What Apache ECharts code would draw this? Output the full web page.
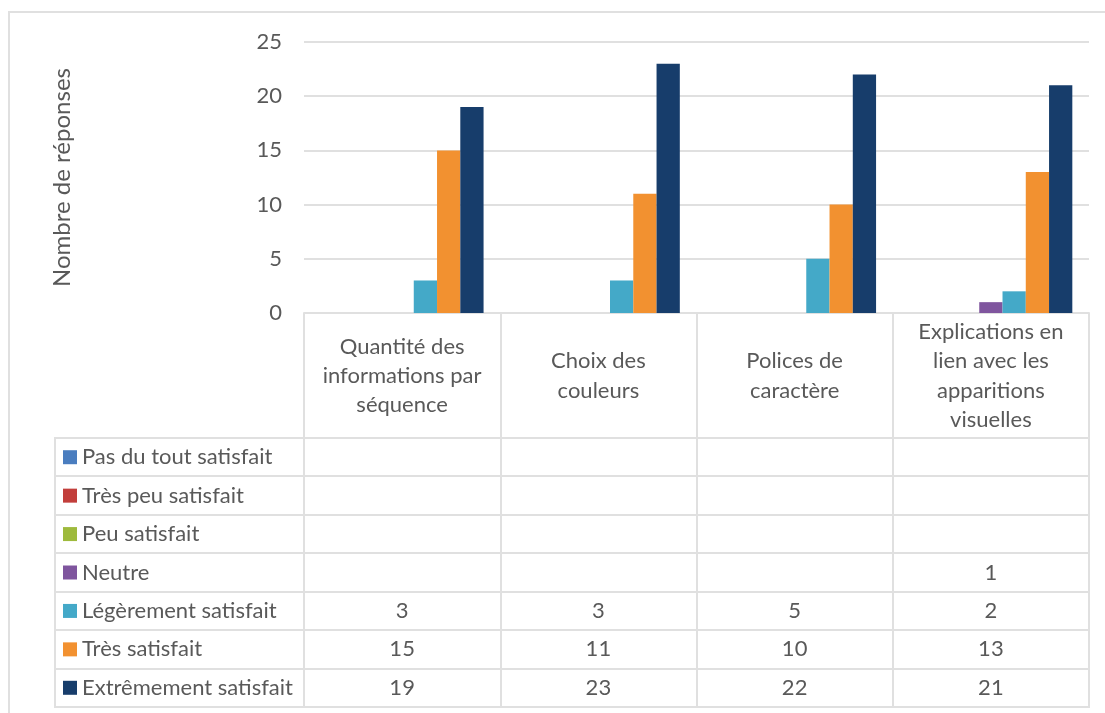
<!DOCTYPE html>
<html>
<head>
<meta charset="utf-8">
<script src="https://cdn.jsdelivr.net/npm/echarts@6/dist/echarts.min.js"></script>
<style>
  html, body { margin: 0; padding: 0; background: #ffffff; }
  #chart { width: 1105px; height: 713px; }
</style>
</head>
<body>
<div id="chart"></div>
<script>
// ---- data ----
const categories = [
  'Quantité des\ninformations par\nséquence',
  'Choix des\ncouleurs',
  'Polices de\ncaractère',
  'Explications en\nlien avec les\napparitions\nvisuelles'
];
const seriesNames = [
  'Pas du tout satisfait',
  'Très peu satisfait',
  'Peu satisfait',
  'Neutre',
  'Légèrement satisfait',
  'Très satisfait',
  'Extrêmement satisfait'
];
const pasDuTout = [null, null, null, null];
const tresPeu = [null, null, null, null];
const peu = [null, null, null, null];
const neutre = [null, null, null, 1];
const legerement = [3, 3, 5, 2];
const tresSatisfait = [15, 11, 10, 13];
const extremement = [19, 23, 22, 21];
const yTicks = [0, 5, 10, 15, 20, 25];
const yTitle = 'Nombre de réponses';

const seriesValues = [pasDuTout, tresPeu, peu, neutre, legerement, tresSatisfait, extremement];
const colors = ['#4A7DBF', '#C23E3B', '#9EBA3C', '#7F559E', '#44A9C8', '#F29130', '#173D6B'];

// ---- layout / style ----
const FONT = 'Lato';
const TXT = '#595959';
const LINE = '#E0E0E0';
const LW = 2;
const FS = 22;
const GRID = { left: 304, top: 42, width: 785, height: 271 };
const TABLE_LEFT = 55;
const HEADER_BOTTOM = 438;
const ROW_H = 38.43;

const chart = echarts.init(document.getElementById('chart'), null, { renderer: 'canvas' });

const option = {
  animation: false,
  backgroundColor: '#ffffff',
  color: colors,
  textStyle: { fontFamily: FONT },
  grid: { left: GRID.left, top: GRID.top, width: GRID.width, height: GRID.height, containLabel: false },
  legend: {
    orient: 'vertical',
    left: 63,
    top: HEADER_BOTTOM,
    padding: 0,
    itemGap: 0,
    itemWidth: 14,
    itemHeight: 14,
    icon: 'rect',
    selectedMode: false,
    data: seriesNames,
    textStyle: { fontFamily: FONT, fontSize: FS, color: TXT, lineHeight: ROW_H }
  },
  xAxis: {
    type: 'category',
    data: categories,
    boundaryGap: true,
    axisLine: { show: true, lineStyle: { color: LINE, width: LW } },
    axisTick: { show: true, interval: 0, alignWithLabel: false, length: 394, lineStyle: { color: LINE, width: LW } },
    axisLabel: {
      interval: 0,
      margin: 63,
      verticalAlign: 'middle',
      align: 'center',
      fontFamily: FONT,
      fontSize: FS,
      lineHeight: 29.3,
      color: TXT
    },
    splitLine: { show: false }
  },
  yAxis: {
    type: 'value',
    min: yTicks[0],
    max: yTicks[yTicks.length - 1],
    interval: yTicks[1] - yTicks[0],
    name: yTitle,
    nameLocation: 'middle',
    nameRotate: 90,
    nameGap: 230,
    nameTextStyle: { fontFamily: FONT, fontSize: 24, color: TXT },
    axisLine: { show: false },
    axisTick: { show: false },
    axisLabel: { margin: 22, fontFamily: FONT, fontSize: FS, color: TXT },
    splitLine: { show: true, lineStyle: { color: LINE, width: LW } }
  },
  series: seriesNames.map((name, i) => ({
    name: name,
    type: 'bar',
    data: seriesValues[i],
    barGap: '0%',
    barCategoryGap: '17%',
    itemStyle: { color: colors[i] }
  }))
};

chart.setOption(option);

// ---- data table (built from the same arrays, placed via the axis scale) ----
function buildTable() {
  const graphics = [];
  const tableRight = GRID.left + GRID.width;
  const nRows = seriesNames.length;
  // horizontal row lines
  for (let k = 0; k <= nRows; k++) {
    const y = Math.round(HEADER_BOTTOM + k * ROW_H);
    graphics.push({
      type: 'line', silent: true,
      shape: { x1: TABLE_LEFT - 1, y1: y, x2: tableRight + 1, y2: y },
      style: { stroke: LINE, lineWidth: LW }
    });
  }
  // left border of the legend column
  graphics.push({
    type: 'line', silent: true,
    shape: { x1: TABLE_LEFT, y1: HEADER_BOTTOM, x2: TABLE_LEFT, y2: Math.round(HEADER_BOTTOM + nRows * ROW_H) + 1 },
    style: { stroke: LINE, lineWidth: LW }
  });
  // cell values
  seriesValues.forEach((vals, r) => {
    vals.forEach((v, c) => {
      if (v === null || v === undefined) return;
      const x = chart.convertToPixel({ xAxisIndex: 0 }, c);
      const y = HEADER_BOTTOM + (r + 0.5) * ROW_H;
      graphics.push({
        type: 'text', silent: true,
        x: x, y: y,
        style: {
          text: String(v), fill: TXT, fontFamily: FONT, fontSize: FS,
          textAlign: 'center', textVerticalAlign: 'middle'
        }
      });
    });
  });
  // outer chart border
  graphics.push({
    type: 'rect', silent: true,
    shape: { x: 9, y: 12, width: 1300, height: 900 },
    style: { fill: null, stroke: LINE, lineWidth: LW }
  });
  chart.setOption({ graphic: graphics });
}
buildTable();
</script>
</body>
</html>
